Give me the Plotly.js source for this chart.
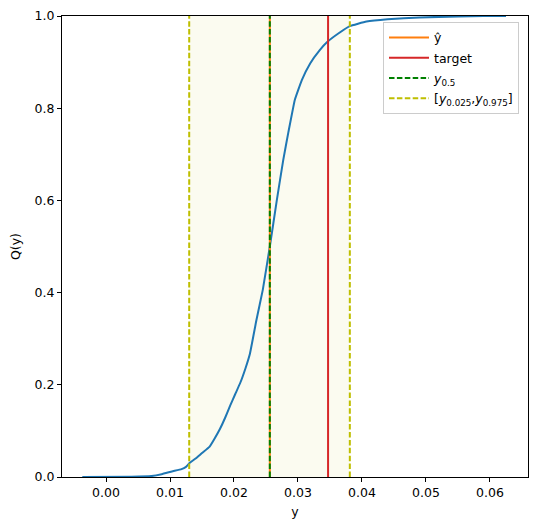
<!DOCTYPE html>
<html>
<head>
<meta charset="utf-8">
<script src="https://cdn.plot.ly/plotly-3.0.1.min.js"></script>
<style>html,body{margin:0;padding:0;background:#fff;}#chart{width:536px;height:530px;}</style>
</head>
<body>
<div id="chart"></div>
<script>
const cdfX = [-0.0037, 0.0040, 0.0071, 0.0087, 0.0103, 0.0118, 0.0125, 0.0131, 0.0140, 0.0150, 0.0162, 0.0170, 0.0178, 0.0186, 0.0194, 0.0202, 0.0210, 0.0218, 0.0225, 0.0235, 0.0245, 0.0256, 0.0267, 0.0277, 0.0285, 0.0295, 0.0306, 0.0319, 0.0334, 0.0346, 0.0363, 0.0381, 0.0407, 0.0440, 0.0490, 0.0550, 0.0590, 0.0625];
const cdfY = [0, 0.0005, 0.002, 0.006, 0.012, 0.017, 0.022, 0.031, 0.040, 0.052, 0.066, 0.084, 0.104, 0.128, 0.155, 0.180, 0.205, 0.236, 0.268, 0.34, 0.406, 0.50, 0.601, 0.688, 0.748, 0.818, 0.861, 0.897, 0.926, 0.944, 0.962, 0.978, 0.988, 0.993, 0.997, 0.999, 1.0, 1.0];

const yHat = 0.0256;
const target = 0.0347;
const yMedian = 0.0256;
const yLow = 0.0130;
const yHigh = 0.0381;

const xTicks = [0.00, 0.01, 0.02, 0.03, 0.04, 0.05, 0.06];
const yTicks = [0.0, 0.2, 0.4, 0.6, 0.8, 1.0];

const dash = '5.5px,2.4px';

const traces = [
  {x: cdfX, y: cdfY, mode: 'lines', line: {color: '#1f77b4', width: 2, shape: 'spline', smoothing: 0.3}, showlegend: false, hoverinfo: 'skip'},
  {x: [yHat, yHat], y: [0, 1], mode: 'lines', name: 'ŷ', legendgroup: 'a', line: {color: '#ff7f0e', width: 2}},
  {x: [target, target], y: [0, 1], mode: 'lines', name: 'target', legendgroup: 'b', line: {color: '#d62728', width: 2}},
  {x: [yMedian, yMedian], y: [0, 1], mode: 'lines', name: '<i>y</i><sub>0.5</sub>', legendgroup: 'c', line: {color: '#008000', width: 2, dash: dash}},
  {x: [yLow, yLow, null, yHigh, yHigh], y: [0, 1, null, 0, 1], mode: 'lines', name: '[<i>y</i><sub>0.025</sub>,<i>y</i><sub>0.975</sub>]', legendgroup: 'd', line: {color: '#bfbf00', width: 2, dash: dash}}
];

const axisCommon = {
  showline: true, mirror: true, linecolor: '#000', linewidth: 1,
  ticks: 'outside', ticklen: 4, tickwidth: 1, tickcolor: '#000',
  showgrid: false, zeroline: false,
  tickfont: {family: 'DejaVu Sans', size: 12.5, color: '#000'}
};

const layout = {
  width: 536, height: 530,
  margin: {l: 62, r: 8, t: 16, b: 53},
  paper_bgcolor: '#fff', plot_bgcolor: '#fff',
  font: {family: 'DejaVu Sans', size: 12.5, color: '#000'},
  xaxis: Object.assign({}, axisCommon, {
    range: [-0.006875, 0.06594], tickvals: xTicks, tickformat: '.2f',
    title: {text: 'y', font: {family: 'DejaVu Sans', size: 12.5}, standoff: 8}
  }),
  yaxis: Object.assign({}, axisCommon, {
    range: [0, 1], tickvals: yTicks, tickformat: '.1f',
    title: {text: 'Q(y)', font: {family: 'DejaVu Sans', size: 12.5}, standoff: 11}
  }),
  shapes: [{
    type: 'rect', xref: 'x', yref: 'paper', x0: yLow, x1: yHigh, y0: 0, y1: 1,
    fillcolor: 'rgba(191,191,0,0.06)', line: {width: 0}, layer: 'below'
  }],
  legend: {
    x: 0.9807, y: 0.987, xanchor: 'right', yanchor: 'top',
    bgcolor: 'rgba(255,255,255,0.8)', bordercolor: '#cccccc', borderwidth: 1,
    font: {family: 'DejaVu Sans', size: 12.5, color: '#000'},
    tracegroupgap: 1, itemwidth: 40
  },
  showlegend: true
};

Plotly.newPlot('chart', traces, layout, {displayModeBar: false, staticPlot: true});
</script>
</body>
</html>
